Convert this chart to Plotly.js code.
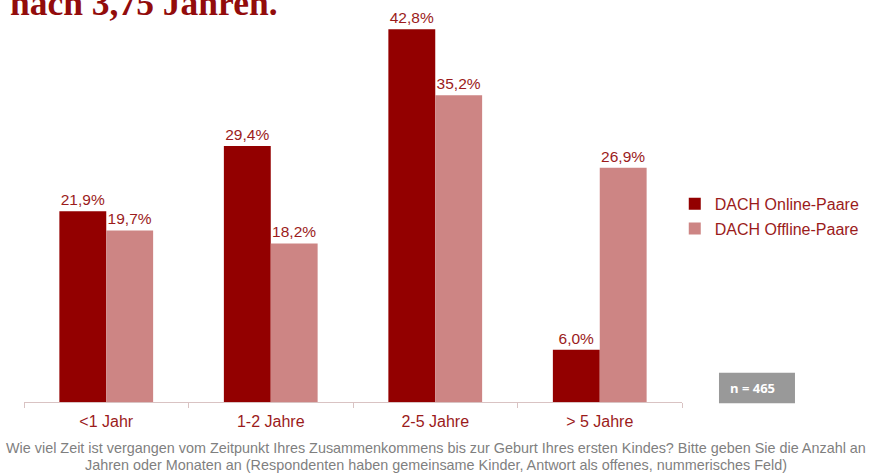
<!DOCTYPE html>
<html>
<head>
<meta charset="utf-8">
<script src="https://cdn.plot.ly/plotly-3.0.1.min.js"></script>
<style>html,body{margin:0;padding:0;background:#fff;}#chart{width:880px;height:475px;}</style>
</head>
<body>
<div id="chart"></div>
<script>
var categories = ["<1 Jahr", "1-2 Jahre", "2-5 Jahre", "> 5 Jahre"];
var onlineValues = [21.9, 29.4, 42.8, 6.0];
var offlineValues = [19.7, 18.2, 35.2, 26.9];
var seriesNames = ["DACH Online-Paare", "DACH Offline-Paare"];
var titleText = "nach 3,75 Jahren.";
var sampleText = "n = 465";
var footLine1 = "Wie viel Zeit ist vergangen vom Zeitpunkt Ihres Zusammenkommens bis zur Geburt Ihres ersten Kindes? Bitte geben Sie die Anzahl an";
var footLine2 = "Jahren oder Monaten an (Respondenten haben gemeinsame Kinder, Antwort als offenes, nummerisches Feld)";

var textRed = "#9b1b1b";
var labelFont = {family: "Liberation Sans, Arial, sans-serif", size: 15.5, color: textRed};

var traces = [
  {type: "bar", name: seriesNames[0], x: categories, y: onlineValues,
   marker: {color: "#930000"}, texttemplate: "%{y:.1f}%", textposition: "outside",
   textfont: labelFont, cliponaxis: false, legendgroup: "a", hoverinfo: "none"},
  {type: "bar", name: seriesNames[1], x: categories, y: offlineValues,
   marker: {color: "#cd8584"}, texttemplate: "%{y:.1f}%", textposition: "outside",
   textfont: labelFont, cliponaxis: false, legendgroup: "b", hoverinfo: "none"}
];

var layout = {
  width: 880, height: 475,
  margin: {l: 24, r: 198, t: 10, b: 73},
  paper_bgcolor: "#fff", plot_bgcolor: "#fff",
  separators: ",.",
  barmode: "group", bargap: 0.43, bargroupgap: 0,
  font: {family: "Liberation Sans, Arial, sans-serif", color: textRed},
  xaxis: {type: "category", showgrid: false, showline: true, linecolor: "#d9c3c3", linewidth: 1,
          ticks: "outside", tickson: "boundaries", ticklen: 5, tickcolor: "#d9c3c3",
          ticklabelstandoff: 5,
          tickfont: {size: 16, color: textRed}, fixedrange: true},
  yaxis: {range: [0, 45], visible: false, fixedrange: true},
  showlegend: true,
  legend: {x: 0.989, xanchor: "left", y: 0.549, yanchor: "top", font: {size: 16, color: textRed},
           tracegroupgap: 1, bgcolor: "rgba(0,0,0,0)"},
  shapes: [
    {type: "rect", xref: "paper", yref: "paper", x0: 1.0562, x1: 1.1717, y0: -0.0033, y1: 0.0747,
     fillcolor: "#999999", line: {width: 0}, layer: "above"}
  ],
  annotations: [
    {text: titleText, xref: "paper", yref: "paper", x: -0.025, xanchor: "left", y: 1.018, yanchor: "middle",
     showarrow: false, font: {family: "Liberation Serif, Times New Roman, serif", size: 35.5, color: "#920c0c", weight: "bold"}},
    {text: "<b>" + sampleText + "</b>", xref: "paper", yref: "paper", x: 1.0698, xanchor: "left", y: 0.0357, yanchor: "middle",
     showarrow: false, font: {family: "Open Sans, Arial, sans-serif", size: 13, color: "#ffffff"}},
    {text: footLine1, xref: "paper", yref: "paper", x: 0.626, xanchor: "center", y: -0.118, yanchor: "middle",
     showarrow: false, font: {family: "Liberation Sans, Arial, sans-serif", size: 14.4, color: "#7f7f7f"}},
    {text: footLine2, xref: "paper", yref: "paper", x: 0.626, xanchor: "center", y: -0.16, yanchor: "middle",
     showarrow: false, font: {family: "Liberation Sans, Arial, sans-serif", size: 14.4, color: "#7f7f7f"}}
  ]
};

Plotly.newPlot("chart", traces, layout, {displayModeBar: false, staticPlot: true});
</script>
</body>
</html>
